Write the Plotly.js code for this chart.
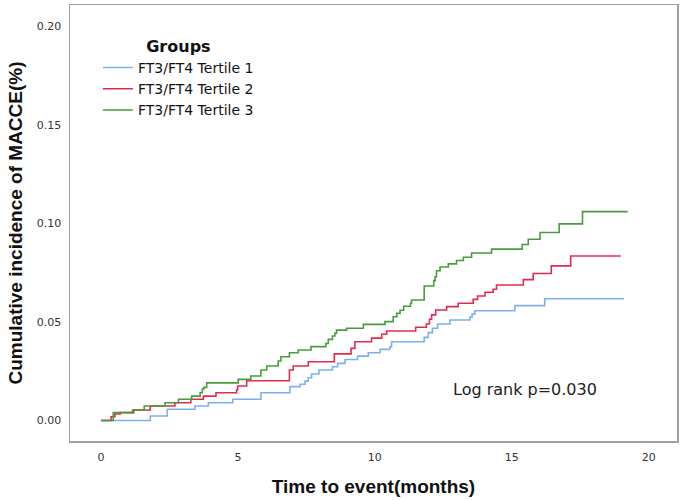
<!DOCTYPE html>
<html>
<head>
<meta charset="utf-8">
<script src="https://cdn.plot.ly/plotly-3.0.1.min.js"></script>
<style>html,body{margin:0;padding:0;background:#fff;}#chart{width:684px;height:500px;}</style>
</head>
<body>
<div id="chart"></div>
<script>
// Data (step functions)
const seriesNames = ["FT3/FT4 Tertile 1", "FT3/FT4 Tertile 2", "FT3/FT4 Tertile 3"];

const t1Time  = [0, 1.8, 2.42, 3.43, 3.92, 4.81, 5.84, 6.9, 7.27, 7.45, 7.57, 7.69, 7.96, 8.45, 8.64, 8.91, 9.37, 9.76, 10.19, 10.55, 10.61, 11.8, 11.95, 12.1, 12.29, 12.74, 13.47, 13.55, 13.65, 15.11, 16.2, 19.1];
const t1Value = [0, 0.0023, 0.0057, 0.0074, 0.009, 0.0108, 0.0141, 0.0172, 0.0184, 0.02, 0.0217, 0.0236, 0.0256, 0.0273, 0.029, 0.031, 0.0327, 0.0344, 0.0361, 0.0374, 0.04, 0.0422, 0.0446, 0.0468, 0.049, 0.051, 0.0525, 0.054, 0.0557, 0.0583, 0.0618, 0.0618];

const t2Time  = [0, 0.37, 0.51, 0.7, 1.2, 1.8, 2.7, 3.28, 3.74, 4.2, 4.95, 4.99, 5.32, 6.88, 7.02, 7.57, 8.52, 9.13, 9.27, 9.88, 10.25, 10.43, 11.49, 11.88, 11.99, 12.07, 12.22, 12.62, 13.04, 13.59, 13.75, 14.02, 14.32, 14.44, 15.42, 15.78, 16.44, 17.15, 18.98];
const t2Value = [0, 0.0019, 0.0033, 0.004, 0.0053, 0.0074, 0.009, 0.0108, 0.0124, 0.0141, 0.0155, 0.0175, 0.0202, 0.0256, 0.0277, 0.0298, 0.0338, 0.0366, 0.04, 0.0418, 0.0438, 0.0454, 0.0473, 0.049, 0.0514, 0.0536, 0.0561, 0.0578, 0.0595, 0.0615, 0.0632, 0.0651, 0.0666, 0.0688, 0.0715, 0.0746, 0.0785, 0.0835, 0.0835];

const t3Time  = [0, 0.45, 1.15, 1.58, 2.34, 2.83, 3.31, 3.62, 3.7, 3.76, 3.86, 5.01, 5.47, 5.84, 6.05, 6.47, 6.57, 6.88, 7.2, 7.67, 8.21, 8.3, 8.45, 8.54, 8.6, 8.97, 9.58, 10.37, 10.67, 10.8, 10.92, 11.05, 11.3, 11.34, 11.8, 12.15, 12.2, 12.25, 12.38, 12.68, 12.98, 13.23, 13.53, 14.26, 15.38, 15.6, 16.03, 16.73, 17.58, 19.23];
const t3Value = [0, 0.004, 0.0053, 0.0074, 0.009, 0.0108, 0.0124, 0.0141, 0.016, 0.0168, 0.0191, 0.0209, 0.0226, 0.0256, 0.0277, 0.0302, 0.0324, 0.0344, 0.0358, 0.0375, 0.0391, 0.0412, 0.0429, 0.0443, 0.0459, 0.0468, 0.0488, 0.0502, 0.0527, 0.0544, 0.056, 0.058, 0.0595, 0.0612, 0.0683, 0.071, 0.073, 0.076, 0.0779, 0.0795, 0.0812, 0.0829, 0.085, 0.087, 0.0893, 0.092, 0.0954, 0.0998, 0.106, 0.106];

const xTickVals = [0, 5, 10, 15, 20];
const yTickVals = [0, 0.05, 0.10, 0.15, 0.20];
const yTickText = ["0.00", "0.05", "0.10", "0.15", "0.20"];

const colors = ["#7eb0ee", "#e32b50", "#4a9a3e"];
const times = [t1Time, t2Time, t3Time];
const values = [t1Value, t2Value, t3Value];

const traces = seriesNames.map((name, i) => ({
  x: times[i], y: values[i], name: name, type: "scatter", mode: "lines",
  line: {shape: "hv", color: colors[i], width: 1.6}
}));

const font = "DejaVu Sans, Noto Sans, sans-serif";
const titleFont = "Liberation Sans, Arial, sans-serif";
const axisCommon = {
  showgrid: false, zeroline: false, showline: true, mirror: true,
  linecolor: "#a0a0a0", linewidth: 1.5,
  ticks: "outside", ticklen: 5, tickcolor: "rgba(0,0,0,0)",
  tickfont: {family: font, size: 11, color: "#333"}
};

const layout = {
  width: 684, height: 500,
  margin: {l: 70, r: 7, t: 5, b: 59},
  paper_bgcolor: "#fff", plot_bgcolor: "#fff",
  showlegend: true,
  legend: {
    x: 0.046, y: 0.94, xanchor: "left", yanchor: "top",
    bgcolor: "rgba(0,0,0,0)", tracegroupgap: 0,
    font: {family: font, size: 14, color: "#111"},
    title: {text: "<b>Groups</b>", side: "top center", font: {family: font, size: 16, color: "#111"}},
    itemwidth: 30
  },
  xaxis: Object.assign({}, axisCommon, {
    range: [-1.13, 21.03], tickvals: xTickVals,
    title: {text: "<b>Time to event(months)</b>", standoff: 17, font: {family: titleFont, size: 19, color: "#111"}}
  }),
  yaxis: Object.assign({}, axisCommon, {
    range: [-0.0104, 0.2109], tickvals: yTickVals, ticktext: yTickText,
    title: {text: "<b>Cumulative incidence of MACCE(%)</b>", standoff: 9, font: {family: titleFont, size: 19, color: "#111"}}
  }),
  annotations: [{
    x: 15.48, y: 0.0155, xref: "x", yref: "y", text: "Log rank p=0.030",
    showarrow: false, font: {family: font, size: 16, color: "#222"}
  }]
};

Plotly.newPlot("chart", traces, layout, {displayModeBar: false, staticPlot: true});
</script>
</body>
</html>
